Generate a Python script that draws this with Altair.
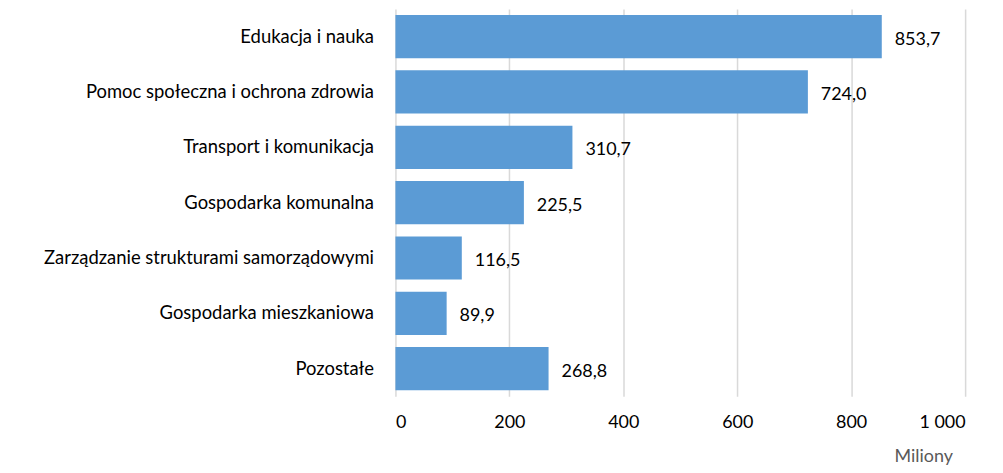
import altair as alt
import pandas as pd

categories = [
    "Edukacja i nauka",
    "Pomoc społeczna i ochrona zdrowia",
    "Transport i komunikacja",
    "Gospodarka komunalna",
    "Zarządzanie strukturami samorządowymi",
    "Gospodarka mieszkaniowa",
    "Pozostałe",
]
values = [853.7, 724.0, 310.7, 225.5, 116.5, 89.9, 268.8]
x_ticks = [0, 200, 400, 600, 800, 1000]

df = pd.DataFrame({"cat": categories, "val": values})

FONT = "Lato"

y_enc = alt.Y("cat:N", sort=categories, title=None,
              scale=alt.Scale(paddingInner=0.22, paddingOuter=0.11),
              axis=alt.Axis(domain=False, ticks=False, labelPadding=22,
                            labelLimit=500, labelFontSize=18.5, labelFont=FONT,
                            labelColor="#000000"))
x_enc = alt.X("val:Q", title="Miliony",
              scale=alt.Scale(domain=[0, 1000], nice=False),
              axis=alt.Axis(values=x_ticks, domain=False, ticks=False, grid=True,
                            gridColor="#d9d9d9", gridWidth=1.5,
                            labelPadding=17, labelFontSize=18, labelFont=FONT,
                            labelColor="#000000",
                            labelExpr="replace(format(datum.value, ','), ',', ' ')",
                            titleFont=FONT, titleFontSize=18, titleFontWeight="normal",
                            titleColor="#595959", titleX=530, titleY=60,
                            titleAlign="center", titleBaseline="middle"))

bars = alt.Chart(df).mark_bar(color="#5B9BD5").encode(x=x_enc, y=y_enc)

text = alt.Chart(df).transform_calculate(
    lbl="replace(format(datum.val, '.1f'), '.', ',')"
).mark_text(align="left", baseline="middle", dx=13, dy=3, fontSize=18,
            font=FONT, color="#000000").encode(
    x=alt.X("val:Q"), y=alt.Y("cat:N", sort=categories), text="lbl:N")

chart = alt.layer(bars, text).properties(
    width=572, height=389,
    autosize=alt.AutoSizeParams(type="none"),
    padding={"left": 389, "top": 0, "right": 30, "bottom": 74},
).configure_view(stroke=None)

chart.save("out.html", embed_options={"renderer": "svg", "actions": False})
